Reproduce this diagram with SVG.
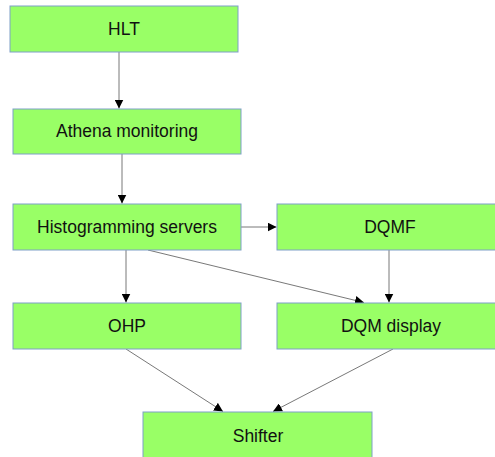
<svg xmlns="http://www.w3.org/2000/svg" width="495" height="457" viewBox="0 0 495 457">
<style>
.box{fill:#99ff66;stroke:#7f9fc8;stroke-width:1}
.lbl{font-family:"Liberation Sans",Arial,sans-serif;font-size:17.5px;fill:#111;text-anchor:middle;dominant-baseline:central}
.edge{stroke:#555;stroke-width:0.8;fill:none;marker-end:url(#ah)}
</style>
<defs>
<marker id="ah" viewBox="0 0 10 10" refX="10" refY="5" markerWidth="9" markerHeight="9" markerUnits="userSpaceOnUse" orient="auto">
<path d="M0,0 L10,5 L0,10 z" fill="#000"/>
</marker>
</defs>
<rect width="495" height="457" fill="#fff"/>
<g id="connectors">
<line class="edge" x1="119" y1="52" x2="119" y2="108.5"/>
<line class="edge" x1="122" y1="154" x2="122" y2="203.5"/>
<line class="edge" x1="241" y1="227" x2="276.5" y2="227"/>
<line class="edge" x1="126" y1="250" x2="126" y2="302.5"/>
<line class="edge" x1="148" y1="250" x2="364" y2="302.5"/>
<line class="edge" x1="389" y1="250" x2="389" y2="302.5"/>
<line class="edge" x1="126" y1="349" x2="223" y2="411.5"/>
<line class="edge" x1="393" y1="349" x2="273" y2="411.5"/>
</g>
<g id="hlt"><rect class="box" x="10" y="6" width="228" height="46"/><text class="lbl" x="124" y="29">HLT</text></g>
<g id="athena"><rect class="box" x="13" y="109" width="228" height="45"/><text class="lbl" x="127" y="131">Athena monitoring</text></g>
<g id="histo"><rect class="box" x="13" y="204" width="228" height="46"/><text class="lbl" x="127" y="227">Histogramming servers</text></g>
<g id="dqmf"><rect class="box" x="277" y="204" width="230" height="46"/><text class="lbl" x="390" y="227">DQMF</text></g>
<g id="ohp"><rect class="box" x="13" y="303" width="228" height="46"/><text class="lbl" x="127" y="326">OHP</text></g>
<g id="dqmdisplay"><rect class="box" x="277" y="303" width="230" height="46"/><text class="lbl" x="391" y="326">DQM display</text></g>
<g id="shifter"><rect class="box" x="143" y="412" width="229" height="50"/><text class="lbl" x="258" y="436">Shifter</text></g>
</svg>
